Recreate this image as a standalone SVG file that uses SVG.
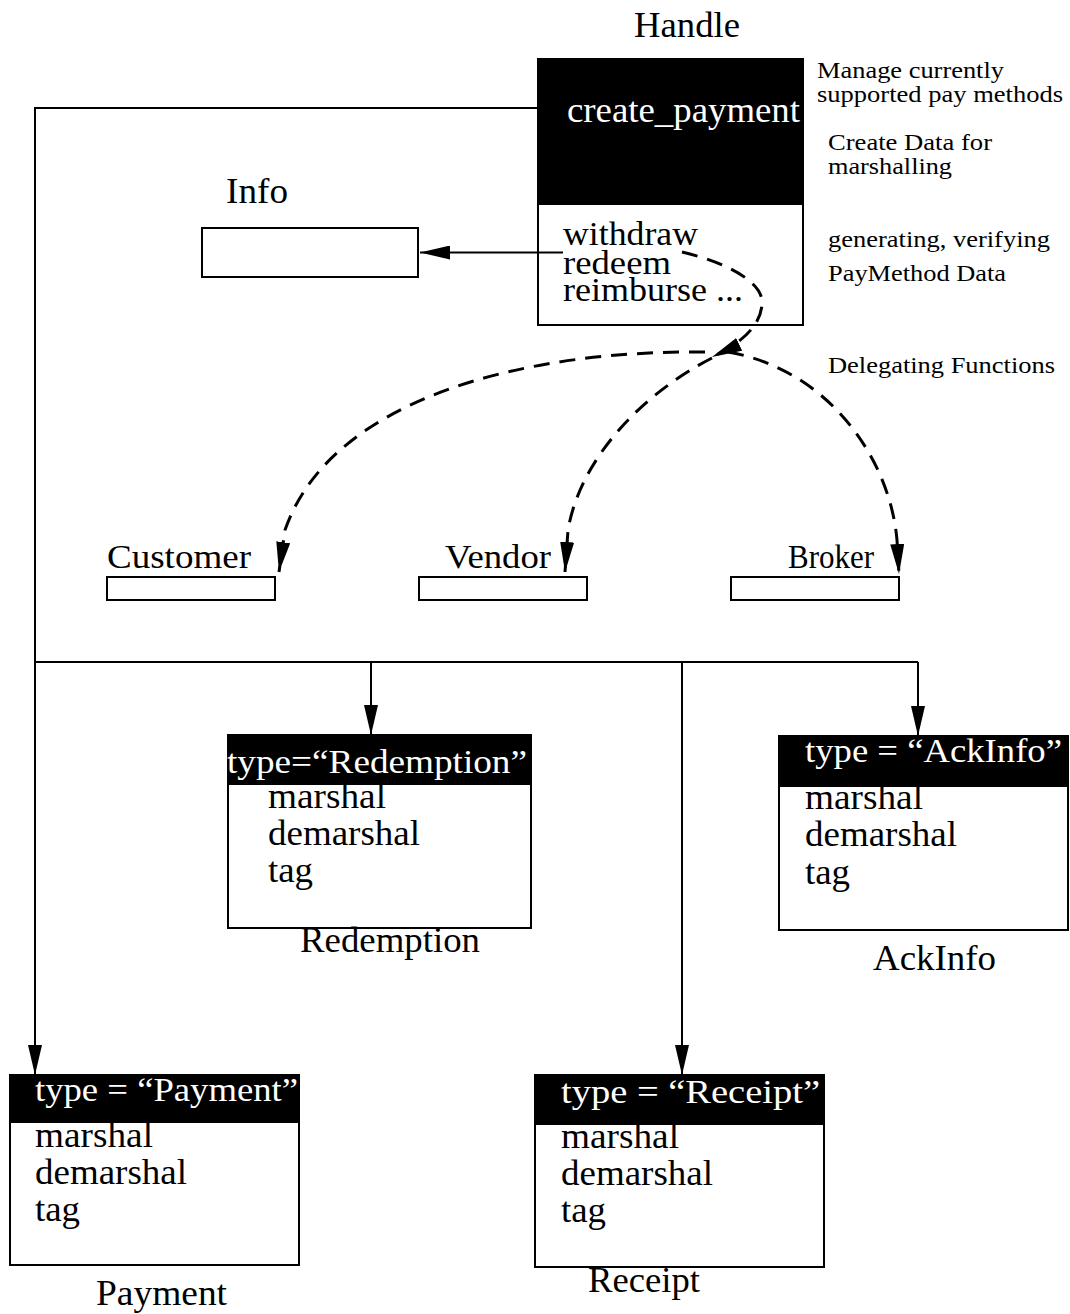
<svg xmlns="http://www.w3.org/2000/svg" width="1070" height="1314" viewBox="0 0 1070 1314">
  <defs>
    <marker id="arrowBig" viewBox="0 0 30 14" refX="30" refY="7" markerWidth="30" markerHeight="14" markerUnits="userSpaceOnUse" orient="auto">
      <path d="M0,0 L30,7 L0,14 z" fill="#000"/>
    </marker>
    <style>
      text { font-family: "Liberation Serif", "Times New Roman", serif; fill: #000; }
      .big { font-size: 36px; }
      .ops { font-size: 34px; }
      .mid { font-size: 34px; }
      .hdr { font-size: 33px; fill: #fff; }
      .inv { fill: #fff; }
      .note { font-size: 24px; }
      .box { fill: #fff; stroke: #000; stroke-width: 2; }
      .bar { fill: #000; }
      .wire { fill: none; stroke: #000; stroke-width: 2; }
      .dash { fill: none; stroke: #000; stroke-width: 3; stroke-dasharray: 16 10; }
    </style>
  </defs>
  <rect width="1070" height="1314" fill="#fff"/>

  <!-- Handle -->
  <g id="handle">
    <text class="big" x="634" y="37" textLength="106" lengthAdjust="spacingAndGlyphs">Handle</text>
    <rect class="box" x="538" y="59" width="265" height="266"/>
    <rect class="bar" x="537" y="59" width="266" height="146"/>
    <text class="big inv" x="567" y="122" textLength="233" lengthAdjust="spacingAndGlyphs">create_payment</text>
    <text class="ops" x="563" y="245" textLength="135" lengthAdjust="spacingAndGlyphs">withdraw</text>
    <text class="ops" x="563" y="274" textLength="108" lengthAdjust="spacingAndGlyphs">redeem</text>
    <text class="ops" x="563" y="301" textLength="180" lengthAdjust="spacingAndGlyphs">reimburse ...</text>
  </g>

  <!-- side notes -->
  <g id="notes">
    <text class="note" x="817" y="78" textLength="187" lengthAdjust="spacingAndGlyphs">Manage currently</text>
    <text class="note" x="817" y="102" textLength="246" lengthAdjust="spacingAndGlyphs">supported pay methods</text>
    <text class="note" x="828" y="150" textLength="164" lengthAdjust="spacingAndGlyphs">Create Data for</text>
    <text class="note" x="828" y="174" textLength="124" lengthAdjust="spacingAndGlyphs">marshalling</text>
    <text class="note" x="828" y="247" textLength="222" lengthAdjust="spacingAndGlyphs">generating, verifying</text>
    <text class="note" x="828" y="281" textLength="178" lengthAdjust="spacingAndGlyphs">PayMethod Data</text>
    <text class="note" x="828" y="373" textLength="227" lengthAdjust="spacingAndGlyphs">Delegating Functions</text>
  </g>

  <!-- Info -->
  <g id="info">
    <text class="big" x="226" y="203" textLength="62" lengthAdjust="spacingAndGlyphs">Info</text>
    <rect class="box" x="202" y="228" width="216" height="49"/>
  </g>

  <!-- Customer / Vendor / Broker -->
  <g id="customer">
    <text class="mid" x="107" y="568" textLength="144" lengthAdjust="spacingAndGlyphs">Customer</text>
    <rect class="box" x="107" y="577" width="168" height="23"/>
  </g>
  <g id="vendor">
    <text class="mid" x="445" y="568" textLength="106" lengthAdjust="spacingAndGlyphs">Vendor</text>
    <rect class="box" x="419" y="577" width="168" height="23"/>
  </g>
  <g id="broker">
    <text class="mid" x="788" y="568" textLength="86" lengthAdjust="spacingAndGlyphs">Broker</text>
    <rect class="box" x="731" y="577" width="168" height="23"/>
  </g>

  <!-- Redemption -->
  <g id="redemption">
    <rect class="box" x="228" y="735" width="303" height="193"/>
    <rect class="bar" x="227" y="735" width="305" height="50"/>
    <text class="hdr" x="227" y="773" textLength="300" lengthAdjust="spacingAndGlyphs">type=“Redemption”</text>
    <text class="big" x="268" y="808" textLength="118" lengthAdjust="spacingAndGlyphs">marshal</text>
    <text class="big" x="268" y="845" textLength="152" lengthAdjust="spacingAndGlyphs">demarshal</text>
    <text class="big" x="268" y="882" textLength="45" lengthAdjust="spacingAndGlyphs">tag</text>
    <text class="big" x="300" y="952" textLength="180" lengthAdjust="spacingAndGlyphs">Redemption</text>
  </g>

  <!-- AckInfo -->
  <g id="ackinfo">
    <rect class="box" x="779" y="736" width="289" height="194"/>
    <rect class="bar" x="778" y="736" width="291" height="51"/>
    <text class="hdr" x="805" y="762" textLength="257" lengthAdjust="spacingAndGlyphs">type = “AckInfo”</text>
    <text class="big" x="805" y="809" textLength="118" lengthAdjust="spacingAndGlyphs">marshal</text>
    <text class="big" x="805" y="846" textLength="152" lengthAdjust="spacingAndGlyphs">demarshal</text>
    <text class="big" x="805" y="884" textLength="45" lengthAdjust="spacingAndGlyphs">tag</text>
    <text class="big" x="873" y="970" textLength="123" lengthAdjust="spacingAndGlyphs">AckInfo</text>
  </g>

  <!-- Payment -->
  <g id="payment">
    <rect class="box" x="10" y="1075" width="289" height="190"/>
    <rect class="bar" x="9" y="1075" width="291" height="48"/>
    <text class="hdr" x="35" y="1101" textLength="263" lengthAdjust="spacingAndGlyphs">type = “Payment”</text>
    <text class="big" x="35" y="1147" textLength="118" lengthAdjust="spacingAndGlyphs">marshal</text>
    <text class="big" x="35" y="1184" textLength="152" lengthAdjust="spacingAndGlyphs">demarshal</text>
    <text class="big" x="35" y="1221" textLength="45" lengthAdjust="spacingAndGlyphs">tag</text>
    <text class="big" x="96" y="1305" textLength="131" lengthAdjust="spacingAndGlyphs">Payment</text>
  </g>

  <!-- Receipt -->
  <g id="receipt">
    <rect class="box" x="535" y="1075" width="289" height="192"/>
    <rect class="bar" x="534" y="1075" width="291" height="50"/>
    <text class="hdr" x="561" y="1103" textLength="259" lengthAdjust="spacingAndGlyphs">type = “Receipt”</text>
    <text class="big" x="561" y="1148" textLength="118" lengthAdjust="spacingAndGlyphs">marshal</text>
    <text class="big" x="561" y="1185" textLength="152" lengthAdjust="spacingAndGlyphs">demarshal</text>
    <text class="big" x="561" y="1222" textLength="45" lengthAdjust="spacingAndGlyphs">tag</text>
    <text class="big" x="588" y="1292" textLength="112" lengthAdjust="spacingAndGlyphs">Receipt</text>
  </g>

  <!-- connectors (drawn last so they sit on top of the box fills) -->
  <g id="connectors">
    <!-- handle to info -->
    <path class="wire" d="M563,252.5 H420" marker-end="url(#arrowBig)"/>
    <!-- handle trunk -->
    <path class="wire" d="M537,108 H35 V1075" marker-end="url(#arrowBig)"/>
    <path class="wire" d="M35,662 H918"/>
    <path class="wire" d="M371,662 V735" marker-end="url(#arrowBig)"/>
    <path class="wire" d="M682,662 V1075" marker-end="url(#arrowBig)"/>
    <path class="wire" d="M918,662 V736" marker-end="url(#arrowBig)"/>
    <!-- delegation loop out of the handle -->
    <path class="dash" d="M682,252 C725,262 765,282 762,305 C760,326 742,343 712,357" marker-end="url(#arrowBig)"/>
    <!-- delegation to customer, vendor, broker -->
    <path class="dash" d="M705,352 C520,350 330,400 285,530 L279,572" marker-end="url(#arrowBig)"/>
    <path class="dash" d="M712,358 C640,395 580,460 568,530 L565,572" marker-end="url(#arrowBig)"/>
    <path class="dash" d="M728,352 C830,370 890,460 897,540 L899,574" marker-end="url(#arrowBig)"/>
  </g>
</svg>
